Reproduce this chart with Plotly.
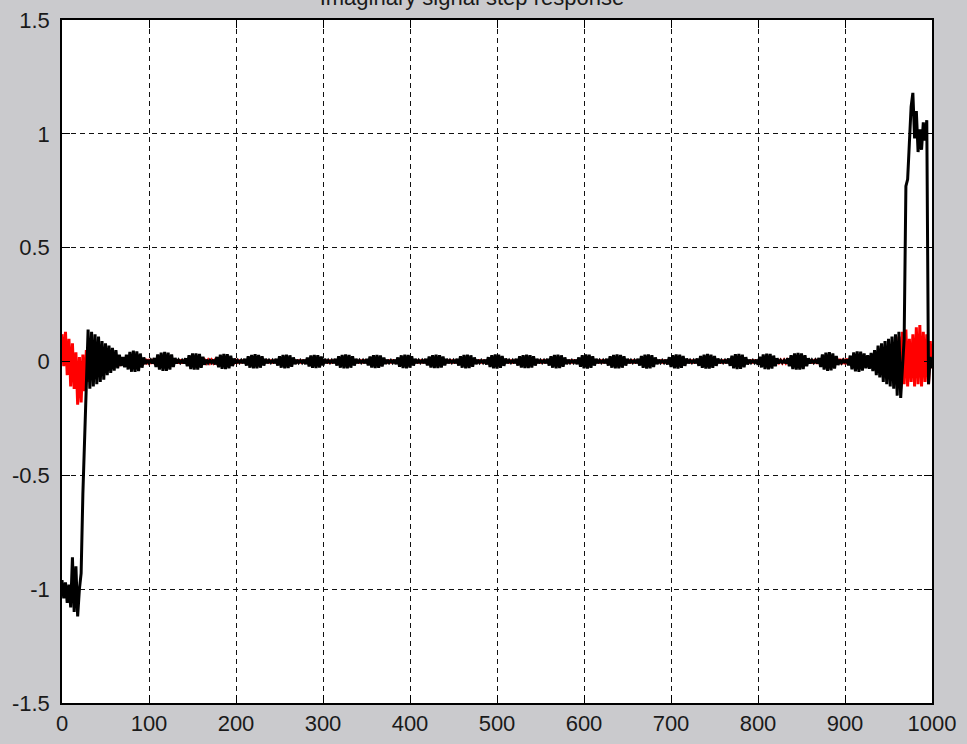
import plotly.graph_objects as go

# ---------------- data ----------------
sample_x = list(range(0, 1001, 2))

black_start = [-0.96, -1.04, -0.97, -1.06, -0.98, -1.08, -0.86, -1.10, -0.90, -1.12,
               -1.00, -0.93, -0.58, -0.33, -0.05, 0.14, -0.12, 0.13, -0.11, 0.12,
               -0.10, 0.11, -0.09, 0.09, -0.08, 0.08, -0.06, 0.07, -0.05, 0.06,
               -0.04, 0.05, -0.03, 0.03]

black_ringing = [
    -0.020, 0.020, -0.025, 0.030, -0.035, 0.042, -0.045, 0.048, -0.046, 0.045, -0.042, 0.035, -0.027, 0.018, -0.010, 0.007, -0.006,
    0.006, -0.008, 0.015, -0.024, 0.031, -0.036, 0.039, -0.041, 0.042, -0.041, 0.039, -0.036, 0.031, -0.024, 0.015, -0.008, 0.006, -0.005,
    0.005, -0.008, 0.014, -0.021, 0.028, -0.033, 0.035, -0.036, 0.036, -0.035, 0.033, -0.028, 0.021, -0.014, 0.008, -0.006, 0.005,
    -0.005, 0.007, -0.013, 0.020, -0.025, 0.030, -0.032, 0.033, -0.033, 0.032, -0.030, 0.025, -0.020, 0.013, -0.007, 0.005, -0.005,
    0.005, -0.007, 0.012, -0.018, 0.023, -0.027, 0.029, -0.030, 0.032, -0.030, 0.029, -0.027, 0.023, -0.018, 0.012, -0.007, 0.005, -0.005,
    0.005, -0.007, 0.012, -0.018, 0.023, -0.027, 0.029, -0.030, 0.030, -0.029, 0.027, -0.023, 0.018, -0.012, 0.007, -0.005, 0.005,
    -0.005, 0.007, -0.012, 0.017, -0.022, 0.026, -0.028, 0.029, -0.029, 0.028, -0.026, 0.022, -0.017, 0.012, -0.007, 0.005, -0.005,
    0.005, -0.007, 0.012, -0.018, 0.023, -0.027, 0.029, -0.030, 0.031, -0.030, 0.029, -0.027, 0.023, -0.018, 0.012, -0.007, 0.005, -0.005,
    0.005, -0.007, 0.011, -0.017, 0.022, -0.026, 0.028, -0.029, 0.029, -0.028, 0.026, -0.022, 0.017, -0.011, 0.007, -0.005, 0.005,
    -0.005, 0.007, -0.012, 0.018, -0.023, 0.027, -0.029, 0.030, -0.030, 0.029, -0.027, 0.023, -0.018, 0.012, -0.007, 0.005, -0.005,
    0.005, -0.007, 0.012, -0.017, 0.022, -0.026, 0.028, -0.029, 0.030, -0.029, 0.028, -0.026, 0.022, -0.017, 0.012, -0.007, 0.005, -0.005,
    0.005, -0.007, 0.012, -0.018, 0.023, -0.027, 0.029, -0.030, 0.030, -0.029, 0.027, -0.023, 0.018, -0.012, 0.007, -0.005, 0.005,
    -0.005, 0.007, -0.013, 0.019, -0.024, 0.028, -0.030, 0.031, -0.031, 0.030, -0.028, 0.024, -0.019, 0.013, -0.007, 0.005, -0.005,
    0.005, -0.007, 0.012, -0.018, 0.023, -0.026, 0.028, -0.029, 0.030, -0.029, 0.028, -0.026, 0.023, -0.018, 0.012, -0.007, 0.005, -0.005,
    0.005, -0.007, 0.012, -0.018, 0.023, -0.027, 0.029, -0.030, 0.030, -0.029, 0.027, -0.023, 0.018, -0.012, 0.007, -0.005, 0.005,
    -0.005, 0.007, -0.012, 0.018, -0.023, 0.028, -0.030, 0.031, -0.031, 0.030, -0.028, 0.023, -0.018, 0.012, -0.007, 0.005, -0.005,
    0.005, -0.007, 0.012, -0.018, 0.023, -0.027, 0.029, -0.030, 0.031, -0.030, 0.029, -0.027, 0.023, -0.018, 0.012, -0.007, 0.005, -0.005,
    0.005, -0.007, 0.012, -0.018, 0.024, -0.028, 0.030, -0.031, 0.031, -0.030, 0.028, -0.024, 0.018, -0.012, 0.007, -0.005, 0.005,
    -0.005, 0.007, -0.013, 0.019, -0.024, 0.028, -0.030, 0.031, -0.031, 0.030, -0.028, 0.024, -0.019, 0.013, -0.007, 0.005, -0.005,
    0.005, -0.007, 0.013, -0.019, 0.024, -0.028, 0.030, -0.031, 0.033, -0.031, 0.030, -0.028, 0.024, -0.019, 0.013, -0.007, 0.005, -0.005,
    0.005, -0.007, 0.013, -0.019, 0.025, -0.030, 0.032, -0.033, 0.033, -0.032, 0.030, -0.025, 0.019, -0.013, 0.007, -0.005, 0.005,
    -0.005, 0.008, -0.014, 0.021, -0.026, 0.031, -0.033, 0.034, -0.034, 0.033, -0.031, 0.026, -0.021, 0.014, -0.008, 0.005, -0.005,
    0.005, -0.008, 0.014, -0.021, 0.028, -0.033, 0.035, -0.036, 0.038, -0.036, 0.035, -0.033, 0.028, -0.021, 0.014, -0.008, 0.006, -0.005,
    0.006, -0.008, 0.015, -0.024, 0.031, -0.036, 0.039, -0.041, 0.041, -0.039, 0.036, -0.031, 0.024, -0.015, 0.008, -0.006, 0.006,
    -0.006, 0.009, -0.017, 0.026, -0.034, 0.040, -0.043, 0.045, -0.045, 0.043, -0.040, 0.036, -0.030, 0.028, -0.032, 0.038, -0.042,
]

black_end = [0.05, -0.06, 0.07, -0.07, 0.08, -0.09, 0.09, -0.10, 0.10, -0.11,
             0.11, -0.12, 0.12, -0.15, 0.13, -0.16, -0.05, 0.10, 0.77, 0.80,
             0.96, 1.12, 1.18, 0.98, 1.10, 0.92, 1.02, 0.93, 1.05, 0.97,
             1.06, -0.10, 0.02, -0.03]

red_start = [0.12, -0.02, 0.13, -0.06, 0.10, -0.11, 0.08, -0.12, 0.04, -0.19,
             0.02, -0.18, 0.03, -0.13, 0.05, -0.09, 0.07, -0.07, 0.06, -0.06,
             0.05, -0.05, 0.045, -0.04, 0.04, -0.035, 0.035, -0.03, 0.03, -0.025,
             0.025, -0.02, 0.02, -0.02]

red_middle = [
    0.015, -0.015, 0.014, -0.014, 0.014, -0.013, 0.013, -0.013, 0.012, -0.012,
    0.012, -0.012, 0.011, -0.011, 0.011, -0.011, 0.010, -0.010, 0.010, -0.010,
    0.010, -0.010, 0.009, -0.009, 0.009, -0.009, 0.009, -0.009, 0.008, -0.008,
    0.008, -0.008, 0.008, -0.008, 0.008, -0.008, 0.007, -0.007, 0.007, -0.007,
    0.007, -0.007, 0.007, -0.007, 0.007, -0.007, 0.006, -0.006, 0.006, -0.006,
    0.006, -0.006, 0.006, -0.006, 0.006, -0.006, 0.006, -0.006, 0.006, -0.006,
    0.005, -0.005, 0.005, -0.005, 0.005, -0.005, 0.005,
    -0.003, 0.003, -0.003, 0.003, -0.003, 0.003, -0.003, 0.003, -0.003, 0.003, -0.003, 0.003, -0.003, 0.003, -0.003, 0.003, -0.003, 0.003, -0.003, 0.003,
    -0.003, 0.003, -0.003, 0.003, -0.003, 0.003, -0.003, 0.003, -0.003, 0.003, -0.003, 0.003, -0.003, 0.003, -0.003, 0.003, -0.003, 0.003, -0.003, 0.003,
    -0.003, 0.003, -0.003, 0.003, -0.003, 0.003, -0.003, 0.003, -0.003, 0.003, -0.003, 0.003, -0.003, 0.003, -0.003, 0.003, -0.003, 0.003, -0.003, 0.003,
    -0.003, 0.003, -0.003, 0.003, -0.003, 0.003, -0.003, 0.003, -0.003, 0.003, -0.003, 0.003, -0.003, 0.003, -0.003, 0.003, -0.003, 0.003, -0.003, 0.003,
    -0.003, 0.003, -0.003, 0.003, -0.003, 0.003, -0.003, 0.003, -0.003, 0.003, -0.003, 0.003, -0.003, 0.003, -0.003, 0.003, -0.003, 0.003, -0.003, 0.003,
    -0.003, 0.003, -0.003, 0.003, -0.003, 0.003, -0.003, 0.003, -0.003, 0.003, -0.003, 0.003, -0.003, 0.003, -0.003, 0.003, -0.003, 0.003, -0.003, 0.003,
    -0.003, 0.003, -0.003, 0.003, -0.003, 0.003, -0.003, 0.003, -0.003, 0.003, -0.003, 0.003, -0.003, 0.003, -0.003, 0.003, -0.003, 0.003, -0.003, 0.003,
    -0.003, 0.003, -0.003, 0.003, -0.003, 0.003, -0.003, 0.003, -0.003, 0.003, -0.003, 0.003, -0.003, 0.003, -0.003, 0.003, -0.003, 0.003, -0.003, 0.003,
    -0.003, 0.003, -0.003, 0.003, -0.003, 0.003, -0.003, 0.003, -0.003, 0.003, -0.003, 0.003, -0.003, 0.003, -0.003, 0.003, -0.003, 0.003, -0.003, 0.003,
    -0.003, 0.003, -0.003, 0.003, -0.003, 0.003, -0.003, 0.003, -0.003, 0.003, -0.003, 0.003, -0.003, 0.003, -0.003, 0.003, -0.003, 0.003, -0.003, 0.003,
    -0.003, 0.003, -0.003, 0.003, -0.003, 0.003, -0.003, 0.003, -0.003, 0.003, -0.003, 0.003, -0.003, 0.003, -0.003, 0.003, -0.003, 0.003, -0.003, 0.003,
    -0.003, 0.003, -0.003, 0.003, -0.003, 0.003, -0.003, 0.003, -0.003, 0.003, -0.003, 0.003, -0.003, 0.003, -0.003, 0.003, -0.003, 0.003, -0.003, 0.003,
    -0.003, 0.003, -0.003, 0.003, -0.003, 0.003, -0.003, 0.003, -0.003, 0.003, -0.003, 0.003, -0.003, 0.003, -0.003, 0.003, -0.003, 0.003, -0.003, 0.003,
    -0.003, 0.003, -0.003, 0.003, -0.003, 0.003, -0.003, 0.003, -0.003, 0.003, -0.003, 0.003, -0.003, 0.003, -0.003, 0.003, -0.003, 0.003, -0.003, 0.003,
    -0.003, 0.003, -0.003, 0.003, -0.003, 0.003, -0.003, 0.003, -0.003, 0.003, -0.003, 0.003, -0.003, 0.003, -0.003, 0.003, -0.003, 0.003, -0.003, 0.003,
    0.004, -0.004, 0.004, -0.004, 0.005, -0.005, 0.005, -0.005, 0.005, -0.005,
    0.005, -0.005, 0.006, -0.006, 0.006, -0.006, 0.006, -0.006, 0.006, -0.006,
    0.007, -0.007, 0.007, -0.007, 0.007, -0.007, 0.008, -0.008, 0.008, -0.008,
    0.008, -0.008, 0.009, -0.009, 0.009, -0.009, 0.009, -0.009, 0.010, -0.010,
    0.010, -0.010, 0.010, -0.010, 0.011, -0.011, 0.011, -0.011, 0.011, -0.011,
    0.012, -0.012, 0.012, -0.012, 0.012, -0.012, 0.013, -0.013, 0.013, -0.013,
    0.013, -0.013, 0.014, -0.014, 0.014, -0.014,
]

red_end = [0.015, -0.02, 0.02, -0.03, 0.03, -0.04, 0.04, -0.05, 0.06, -0.06,
           0.07, -0.08, 0.09, -0.10, 0.11, -0.12, 0.13, -0.10, 0.14, -0.11,
           0.10, -0.09, 0.12, -0.11, 0.15, -0.10, 0.16, -0.11, 0.13, -0.09,
           0.12, -0.10, 0.09, -0.03]

x_ticks = [0, 100, 200, 300, 400, 500, 600, 700, 800, 900, 1000]
y_ticks = [-1.5, -1, -0.5, 0, 0.5, 1, 1.5]
y_tick_text = ["-1.5", "-1", "-0.5", "0", "0.5", "1", "1.5"]
title_text = "Imaginary signal step response"

# ---------------- build ----------------
black_values = black_start + black_ringing + black_end
red_values = red_start + red_middle + red_end
print(len(sample_x), len(black_values), len(red_values))

fig = go.Figure()
fig.add_trace(go.Scatter(x=sample_x[:len(red_values)], y=red_values, mode="lines",
                         line=dict(color="#ff0000", width=3), showlegend=False))
fig.add_trace(go.Scatter(x=sample_x[:len(black_values)], y=black_values, mode="lines",
                         line=dict(color="#000000", width=3), showlegend=False))

axis_common = dict(
    showline=True, linecolor="#000000", linewidth=1.5, mirror="ticks",
    showgrid=True, gridcolor="#111111", gridwidth=1.2, griddash="5px,4px",
    zeroline=False, ticks="inside", ticklen=8, tickwidth=1, tickcolor="#000000",
    automargin=False,
    tickfont=dict(family="Liberation Sans, Arial, sans-serif", size=22, color="#1a1a1a"),
)

fig.update_xaxes(range=[0, 1000], tickvals=x_ticks, **axis_common)
fig.update_yaxes(range=[-1.5, 1.5], tickvals=y_ticks, ticktext=y_tick_text,
                 ticklabelstandoff=6, **axis_common)

fig.update_layout(
    width=967, height=744,
    margin=dict(l=62, r=35, t=20, b=41),
    paper_bgcolor="#cacacd",
    plot_bgcolor="#ffffff",
    title=dict(text=title_text, x=0.488, xanchor="center", xref="container",
               y=0.993, yanchor="bottom", yref="container", automargin=False,
               font=dict(family="Liberation Sans, Arial, sans-serif", size=22, color="#1a1a1a")),
)

fig.write_html(
    "out.html",
    config={"displayModeBar": False},
    post_script="document.body.style.margin='0';document.body.style.background='#cacacd';"
                "document.body.style.overflow='hidden';",
)
